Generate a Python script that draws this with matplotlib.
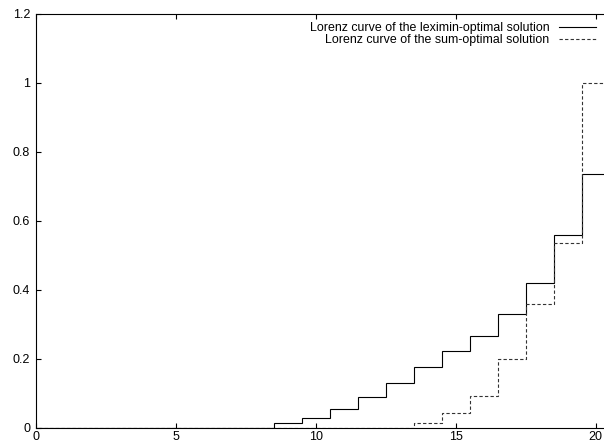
import numpy as np
import matplotlib
matplotlib.use("Agg")
import matplotlib.pyplot as plt

plt.rcParams['font.family'] = ['Liberation Sans', 'DejaVu Sans']

# Agent index and cumulative share (Lorenz curve) for both solutions
agents = np.arange(0, 21)
leximin = [0, 0, 0, 0, 0, 0, 0, 0, 0, 0.013, 0.027, 0.054, 0.088, 0.131,
           0.176, 0.222, 0.267, 0.330, 0.421, 0.559, 0.736]
sum_opt = [0, 0, 0, 0, 0, 0, 0, 0, 0, 0, 0, 0, 0, 0,
           0.0135, 0.042, 0.093, 0.199, 0.359, 0.536, 1.0]

x_ticks = [0, 5, 10, 15, 20]
y_ticks = [0, 0.2, 0.4, 0.6, 0.8, 1.0, 1.2]
y_tick_labels = ["0", "0.2", "0.4", "0.6", "0.8", "1", "1.2"]

label_lex = "Lorenz curve of the leximin-optimal solution"
label_sum = "Lorenz curve of the sum-optimal solution"

fig = plt.figure(figsize=(6.04, 4.44), dpi=100)
W, H = 604, 444
left_px, right_px = 35.7, 609.7
top_px, bottom_px = 14.0, 427.7
ax = fig.add_axes([left_px / W, 1 - bottom_px / H,
                   (right_px - left_px) / W, (bottom_px - top_px) / H])

# histogram-style steps centred on each agent index
edges = np.append(agents - 0.5, agents[-1] + 0.5)
ax.stairs(leximin, edges, color='black', lw=0.8, label=label_lex)
ax.stairs(sum_opt, edges, color='#333333', lw=0.8, linestyle=(0, (3, 2)),
          label=label_sum)

ax.set_xlim(0, 20.5)
ax.set_ylim(0, 1.2)
ax.set_xticks(x_ticks)
ax.set_xticklabels([str(t) for t in x_ticks])
ax.set_yticks(y_ticks)
ax.set_yticklabels(y_tick_labels)

for s in ax.spines.values():
    s.set_linewidth(0.8)
ax.spines['right'].set_visible(False)
ax.tick_params(direction='in', length=3.5, width=0.8, labelsize=9,
               top=True, right=False, pad=2.5)
ax.tick_params(axis='y', pad=4)

ax_w = right_px - left_px
ax_h = bottom_px - top_px
leg = ax.legend(loc='upper right',
                bbox_to_anchor=((601.5 - left_px) / ax_w, 1.0 - 2.5 / ax_h),
                frameon=False, markerfirst=False, fontsize=8.9,
                handlelength=3.0, handletextpad=0.75, labelspacing=0.02,
                borderaxespad=0.0, borderpad=0.45)
for h in leg.legend_handles:
    h.set_linewidth(0.8)

fig.savefig("out.png", dpi=100)
